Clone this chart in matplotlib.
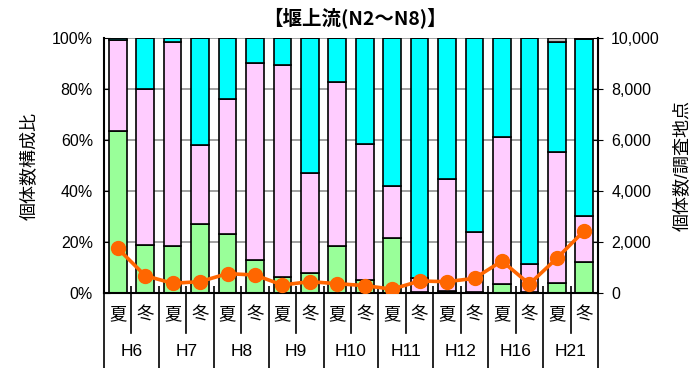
import numpy as np
import matplotlib
matplotlib.use("Agg")
import matplotlib.pyplot as plt
import matplotlib.transforms as mtransforms
from matplotlib.ticker import FuncFormatter

plt.rcParams["font.family"] = ["Liberation Sans", "Noto Sans CJK JP"]

# データ
years = ["H6", "H7", "H8", "H9", "H10", "H11", "H12", "H16", "H21"]
seasons = ["夏", "冬"]

pct_green = [63.6, 19.0, 18.6, 27.0, 23.0, 12.8, 6.1, 7.7, 18.6,
             5.1, 21.7, 0.5, 0.8, 0.5, 3.4, 0.3, 4.0, 12.3]
pct_pink = [35.6, 61.0, 79.7, 31.0, 53.0, 77.5, 83.3, 39.3, 64.3,
            53.3, 20.4, 5.2, 43.9, 23.5, 57.8, 11.2, 51.2, 17.9]
pct_cyan = [0.8, 20.0, 1.7, 42.0, 24.0, 9.7, 10.6, 53.0, 17.1,
            41.6, 57.9, 94.3, 55.3, 76.0, 38.8, 88.5, 43.3, 69.3]
pct_gray = [0, 0, 0, 0, 0, 0, 0, 0, 0,
            0, 0, 0, 0, 0, 0, 0, 1.5, 0.5]
counts = [1750, 680, 380, 445, 760, 705, 315, 445, 365,
          290, 150, 470, 445, 575, 1255, 350, 1360, 2445]

labels = [s for _ in years for s in seasons]
x = np.arange(len(labels))

fig = plt.figure(figsize=(6.95, 3.68), dpi=100)
ax = fig.add_axes([104 / 695, 1 - 293 / 368, 494 / 695, 255 / 368])

# 積み上げ棒
bottom = np.zeros(len(x))
for vals, col in [(pct_green, "#99FF99"), (pct_pink, "#FFCCFF"),
                  (pct_cyan, "#00FFFF"), (pct_gray, "#C0C0C0")]:
    ax.bar(x, vals, bottom=bottom, width=0.64, color=col,
           edgecolor="black", linewidth=1.2, zorder=2)
    bottom += np.array(vals)

ax.set_xlim(-0.5, len(x) - 0.5)
ax.set_ylim(0, 100)
ax.set_yticks(np.arange(0, 101, 20))
ax.yaxis.set_major_formatter(FuncFormatter(lambda v, p: f"{v:.0f}%"))
ax.grid(axis="y", color="#909090", linewidth=1.2, zorder=0)
ax.set_axisbelow(True)
ax.tick_params(axis="y", direction="in", length=4, labelsize=11.5, pad=8)
ax.set_xticks(x + 0.5, minor=False)
ax.set_xticklabels([])
ax.tick_params(axis="x", direction="in", length=5, width=1.2)
for side in ["left", "bottom"]:
    ax.spines[side].set_linewidth(1.5)
ax.spines["top"].set_visible(False)
ax.spines["right"].set_visible(False)
ax.set_ylabel("個体数構成比", fontsize=13, labelpad=10)

# 個体数/調査地点
ax2 = ax.twinx()
ax2.plot(x, counts, "-o", color="#FF6600", linewidth=2.6, markersize=10, zorder=5)
ax2.set_ylim(0, 10000)
ax2.set_yticks(np.arange(0, 10001, 2000))
ax2.yaxis.set_major_formatter(FuncFormatter(lambda v, p: f"{v:,.0f}"))
ax2.tick_params(axis="y", direction="inout", length=7, labelsize=11.5, pad=6)
ax2.spines["right"].set_linewidth(1.5)
ax2.spines["top"].set_visible(False)
ax2.spines["left"].set_visible(False)
ax2.spines["bottom"].set_visible(False)
ax2.set_ylabel("個体数/調査地点", fontsize=13, labelpad=10)

# 2段のカテゴリ軸
trans = mtransforms.blended_transform_factory(ax.transData, ax.transAxes)
row1 = -40 / 255
row2 = -75 / 255
for i, lab in enumerate(labels):
    ax.text(i, row1 / 2 - 0.005, lab, transform=trans,
            ha="center", va="center", fontsize=12.5,
            family=["Noto Sans CJK JP"])
for j, yr in enumerate(years):
    ax.text(2 * j + 0.5, (row1 + row2) / 2 - 0.005, yr, transform=trans,
            ha="center", va="center", fontsize=12.5)
for i in range(len(labels) + 1):
    xb = i - 0.5
    y_end = row2 if i % 2 == 0 else row1
    ax.plot([xb, xb], [0, y_end], transform=trans, color="black",
            linewidth=1.2, clip_on=False)

fig.text(355 / 695, 1 - 18 / 368, "【堰上流(N2〜N8)】", ha="center", va="center",
         fontsize=14, fontweight="bold", family=["Noto Sans CJK JP"])

plt.savefig("out.png", dpi=100)
